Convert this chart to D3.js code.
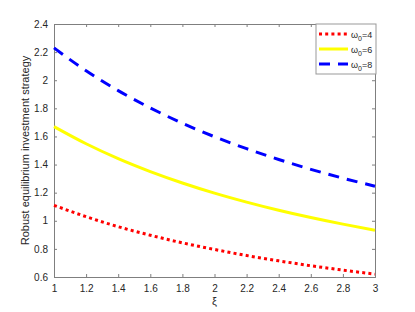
<!DOCTYPE html>
<html>
<head>
<meta charset="utf-8">
<script src="https://cdn.jsdelivr.net/npm/d3@7"></script>
<style>
body { margin: 0; background: #fff; }
text { font-family: "Liberation Sans", Arial, sans-serif; }
</style>
</head>
<body>
<div id="canvas"></div>
<script>
// values
const xi = [1, 1.2, 1.4, 1.6, 1.8, 2, 2.2, 2.4, 2.6, 2.8, 3];
const w4 = [1.110, 1.029, 0.958, 0.897, 0.843, 0.796, 0.753, 0.715, 0.680, 0.649, 0.620];
const w6 = [1.670, 1.548, 1.442, 1.350, 1.269, 1.197, 1.133, 1.075, 1.023, 0.976, 0.933];
const w8 = [2.230, 2.067, 1.926, 1.803, 1.694, 1.598, 1.513, 1.436, 1.366, 1.303, 1.246];
const seriesNames = ["4", "6", "8"];
const xTicks = [1, 1.2, 1.4, 1.6, 1.8, 2, 2.2, 2.4, 2.6, 2.8, 3];
const yTicks = [0.6, 0.8, 1, 1.2, 1.4, 1.6, 1.8, 2, 2.2, 2.4];

const width = 415;
const height = 312;
const margin = { top: 24, left: 54, bottom: 35, right: 40 };
const iwidth = width - margin.left - margin.right;
const iheight = height - margin.top - margin.bottom;

const svg = d3.select("#canvas").append("svg")
    .attr("width", width)
    .attr("height", height);

const g = svg.append("g").attr("transform", `translate(${margin.left},${margin.top})`);

const x = d3.scaleLinear().domain([1, 3]).range([0, iwidth]);
const y = d3.scaleLinear().domain([0.6, 2.4]).range([iheight, 0]);

const axisColor = "#7f7f7f";
const textColor = "#262626";

// axes with inward ticks, box on
function styleAxis(sel) {
    sel.select(".domain").attr("stroke", axisColor);
    sel.selectAll(".tick line").attr("stroke", axisColor);
    sel.selectAll(".tick text").attr("fill", textColor).style("font-size", "10px");
}
g.append("g")
    .attr("transform", `translate(0,${iheight})`)
    .call(d3.axisBottom(x).tickValues(xTicks).tickSize(-3).tickPadding(8).tickFormat(d3.format("")))
    .call(styleAxis);
g.append("g")
    .call(d3.axisLeft(y).tickValues(yTicks).tickSize(-3).tickPadding(6).tickFormat(d3.format("")))
    .call(styleAxis);
g.append("g")
    .call(d3.axisTop(x).tickValues(xTicks).tickSize(-3).tickFormat(""))
    .call(styleAxis);
g.append("g")
    .attr("transform", `translate(${iwidth},0)`)
    .call(d3.axisRight(y).tickValues(yTicks).tickSize(-3).tickFormat(""))
    .call(styleAxis);

const series = [
    { name: seriesNames[0], values: w4, color: "#ff0000", dash: "3,3.2" },
    { name: seriesNames[1], values: w6, color: "#ffff00", dash: null },
    { name: seriesNames[2], values: w8, color: "#0000ff", dash: "11,8" }
];

const line = d3.line()
    .x((d, i) => x(xi[i]))
    .y(d => y(d))
    .curve(d3.curveMonotoneX);

g.selectAll(".series").data(series).enter().append("path")
    .attr("class", "series")
    .attr("d", d => line(d.values))
    .attr("fill", "none")
    .attr("stroke", d => d.color)
    .attr("stroke-width", 3)
    .attr("stroke-dasharray", d => d.dash);

// legend
const lg = svg.append("g").attr("transform", "translate(316,24)");
lg.append("rect")
    .attr("width", 60).attr("height", 50)
    .attr("fill", "#fff").attr("stroke", "#999").attr("stroke-width", 1);
series.forEach((s, i) => {
    const yy = 10 + i * 15;
    lg.append("line")
        .attr("x1", 3).attr("x2", 32).attr("y1", yy).attr("y2", yy)
        .attr("stroke", s.color).attr("stroke-width", 3)
        .attr("stroke-dasharray", s.dash);
    const t = lg.append("text")
        .attr("x", 35).attr("y", yy + 3.5)
        .attr("fill", textColor).style("font-size", "9px");
    t.append("tspan").text("ω");
    t.append("tspan").attr("dy", 3).style("font-size", "7px").text("0");
    t.append("tspan").attr("dy", -3).text("=" + s.name);
});

svg.append("text")
    .attr("x", margin.left + iwidth / 2)
    .attr("y", 305)
    .attr("text-anchor", "middle")
    .attr("fill", textColor)
    .style("font-size", "11px")
    .text("ξ");

svg.append("text")
    .attr("transform", `translate(29,${margin.top + iheight / 2}) rotate(-90)`)
    .attr("text-anchor", "middle")
    .attr("fill", textColor)
    .style("font-size", "11px")
    .text("Robust equilibrium investment strategy");
</script>
</body>
</html>
